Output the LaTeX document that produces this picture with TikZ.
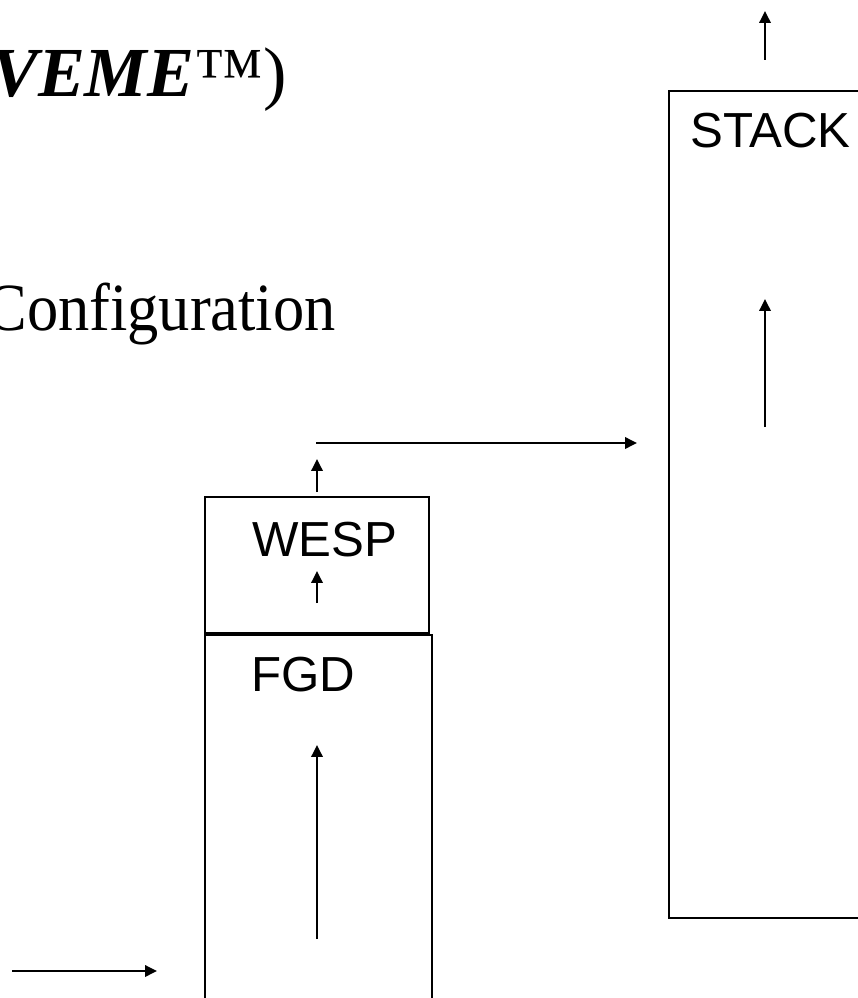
\documentclass[tikz,border=0pt]{standalone}
\usepackage{fontspec}
\setmainfont{Liberation Serif}
\newfontfamily\labelfont{Liberation Sans}
\usetikzlibrary{arrows.meta,fit}

\tikzset{
  unitbox/.style={draw, line width=2pt, inner sep=0pt},
  tag/.style={font=\labelfont\fontsize{35}{40}\selectfont, inner sep=0pt, anchor=north west},
  flow/.style={line width=1.8pt, -{Triangle[length=8.5pt,width=8pt]}}
}

\begin{document}
\begin{tikzpicture}[x=0.025cm,y=-0.025cm]
\useasboundingbox (0,0) rectangle (857,998);

% title lines, cut at the left edge
\node[anchor=base east, inner sep=0pt, font=\fontsize{50}{56}\selectfont] (title) at (287,97)
  {\textbf{\textit{VEME}}™)};
\node[anchor=base east, inner sep=0pt, font=\fontsize{48}{56}\selectfont] (config) at (336,330)
  {\scalebox{0.925}[1]{Configuration}};

% units
\node[unitbox, fit={(205,497) (429,633)}] (wesp) {};
\node[unitbox, fit={(205,635) (432,1020)}] (fgd) {};
\node[unitbox, fit={(669,91) (900,918)}] (stack) {};

\node[tag] (wesplabel) at (252,522) {WESP};
\node[tag] (fgdlabel) at (251,657) {FGD};
\node[tag] (stacklabel) at (690,113) {STACK};

% gas path
\coordinate (feedin) at (12,971);
\coordinate (feedout) at (157,971);
\coordinate (fgdin) at (317,939);
\coordinate (fgdout) at (317,745);
\coordinate (wespin) at (317,603);
\coordinate (wespout) at (317,571);
\coordinate (riseA) at (317,492);
\coordinate (riseB) at (317,459);
\coordinate (ductA) at (316,443);
\coordinate (ductB) at (637,443);
\coordinate (stackin) at (765,427);
\coordinate (stackout) at (765,299);
\coordinate (ventA) at (765,60);
\coordinate (ventB) at (765,11);

\draw[flow] (feedin) -- (feedout);
\draw[flow] (fgdin) -- (fgdout);
\draw[flow] (wespin) -- (wespout);
\draw[flow] (riseA) -- (riseB);
\draw[flow] (ductA) -- (ductB);
\draw[flow] (stackin) -- (stackout);
\draw[flow] (ventA) -- (ventB);
\end{tikzpicture}
\end{document}
